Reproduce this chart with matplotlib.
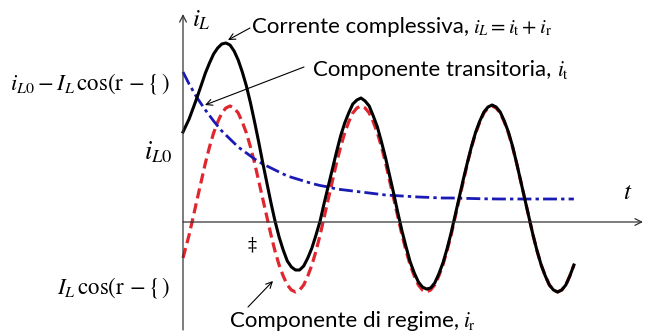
import matplotlib
matplotlib.use("Agg")
import matplotlib.pyplot as plt

plt.rcParams["mathtext.fontset"] = "stix"

# sampling instants (arbitrary time units, one period = 131)
t = [0.0, 6.1, 10.2, 14.2, 18.3, 22.4, 26.5, 30.6, 34.7, 38.8, 42.9,
     47.0, 51.1, 55.2, 59.3, 63.4, 67.5, 71.6, 75.7, 79.8, 83.9,
     88.0, 92.0, 96.1, 100.2, 104.3, 108.4, 112.5, 116.6, 120.7, 124.8,
     128.9, 133.0, 137.1, 141.2, 145.3, 149.4, 153.5, 157.6, 161.7, 165.7,
     169.8, 173.9, 178.0, 182.1, 186.2, 190.3, 194.4, 198.5, 202.6, 206.7,
     210.8, 214.9, 219.0, 223.1, 227.2, 231.3, 235.4, 239.4, 243.5, 247.6,
     251.7, 255.8, 259.9, 264.0, 268.1, 272.2, 276.3, 280.4, 284.5, 288.6,
     292.7, 296.8, 300.9, 305.0, 309.1, 313.1, 317.2, 321.3, 325.4, 329.5,
     333.6, 337.7, 341.8, 345.9, 350.0, 354.1, 358.2, 362.3, 366.4, 370.5,
     374.6, 378.7, 382.8, 386.8, 390.9]

# steady-state component i_r
i_r = [-36, -13, 5, 23, 41, 59, 75, 89, 100, 109, 114,
       116, 114, 109, 100, 89, 75, 59, 41, 23, 5,
       -13, -29, -43, -54, -63, -68, -70, -68, -63, -54,
       -43, -29, -13, 5, 23, 41, 59, 75, 89, 100,
       109, 114, 116, 114, 109, 100, 89, 75, 59, 41,
       23, 5, -13, -29, -43, -54, -63, -68, -70, -68,
       -63, -54, -43, -29, -13, 5, 23, 41, 59, 75,
       89, 100, 109, 114, 116, 114, 109, 100, 89, 75,
       59, 41, 23, 5, -13, -29, -43, -54, -63, -68,
       -70, -68, -63, -54, -43]

# total current i_L
i_L = [90, 103, 114, 125, 137, 149, 159, 168, 174, 178, 179,
       177, 171, 162, 150, 136, 119, 100, 80, 59, 39,
       19, 1, -15, -28, -39, -45, -48, -48, -44, -36,
       -26, -13, 1, 19, 36, 53, 70, 86, 99, 109,
       118, 122, 124, 121, 116, 106, 95, 80, 64, 46,
       28, 9, -9, -25, -40, -51, -60, -65, -67, -66,
       -61, -52, -41, -27, -11, 7, 25, 43, 60, 76,
       90, 101, 110, 115, 117, 115, 110, 101, 90, 76,
       59, 41, 23, 5, -13, -29, -43, -54, -63, -68,
       -70, -68, -63, -54, -43]

# transient component i_t (coarser sampling)
t_tr = [0.0, 6.1, 14.2, 22.4, 30.6, 38.8, 47.0, 55.2, 63.4, 71.6, 79.8,
        88.0, 96.1, 104.3, 112.5, 120.7, 128.9, 137.1, 145.3, 153.5, 161.7,
        169.8, 178.0, 186.2, 194.4, 202.6, 210.8, 219.0, 227.2, 235.4, 243.5,
        251.7, 259.9, 268.1, 276.3, 284.5, 292.7, 300.9, 309.1, 317.2, 325.4,
        333.6, 341.8, 350.0, 358.2, 366.4, 374.6, 382.8, 390.9]
i_t = [150, 138, 124, 112, 101, 91, 83, 75, 69, 63, 58,
       54, 50, 46, 43.5, 41, 38.5, 36.5, 35, 33, 32,
       31, 30, 29, 28, 27, 26.5, 26, 25.5, 25, 24.7,
       24.3, 24, 24, 23.8, 23.6, 23.4, 23.2, 23.1, 23, 23,
       23, 23, 23, 23, 23, 23, 23, 23]

fig = plt.figure(figsize=(6.45, 3.33), dpi=100)
ax = fig.add_axes([0, 0, 1, 1])
ax.set_xlim(-183, 462)
ax.set_ylim(-111, 222)
ax.axis("off")

# axes with open arrow heads
axis_kw = dict(arrowstyle="->", color="#333333", lw=0.9, shrinkA=0, shrinkB=0,
               mutation_scale=12)
ax.annotate("", xy=(0, 208), xytext=(0, -108), arrowprops=axis_kw)
ax.annotate("", xy=(460, 0), xytext=(0, 0), arrowprops=axis_kw)

ax.plot(t, i_r, color="#e0262e", lw=2.3, ls=(0, (3.2, 1.6)))
ax.plot(t_tr, i_t, color="#1a1ab4", lw=2.0, ls=(0, (5, 1.5, 1.2, 1.5)))
ax.plot(t, i_L, color="black", lw=2.2, solid_joinstyle="round")

sans = "Lato"
ptr = dict(arrowstyle="->", color="black", lw=0.8, shrinkA=0, shrinkB=0,
           mutation_scale=11)

# callouts: words in sans, symbols in math
ax.text(9, 202, "$i_L$", fontsize=18, ha="left", va="center")
ax.annotate("", xy=(45, 182), xytext=(67, 194), arrowprops=ptr)
ax.text(69, 189, "Corrente complessiva,", family=sans, fontsize=16,
        ha="left", va="baseline")
ax.text(290, 189, r"$i_L = i_\mathrm{t} + i_\mathrm{r}$", fontsize=15,
        ha="left", va="baseline")

ax.annotate("", xy=(22, 117), xytext=(121, 155), arrowprops=ptr)
ax.text(130, 146, "Componente transitoria,", family=sans, fontsize=16,
        ha="left", va="baseline")
ax.text(374, 146, r"$i_\mathrm{t}$", fontsize=15.5, ha="left", va="baseline")

ax.annotate("", xy=(90, -59), xytext=(65, -85), arrowprops=ptr)
ax.text(47, -105, "Componente di regime,", family=sans, fontsize=16,
        ha="left", va="baseline")
ax.text(280, -105, r"$i_\mathrm{r}$", fontsize=15.5, ha="left", va="baseline")

ax.text(-13, 138, r"$i_{L0} - I_L\,\cos(\mathrm{r}\,-\{\,)$", fontsize=16.5,
        ha="right", va="center")
ax.text(-11, 70, r"$i_{L0}$", fontsize=19, ha="right", va="center")
ax.text(-13, -65, r"$I_L\,\cos(\mathrm{r}\,-\{\,)$", fontsize=16.5,
        ha="right", va="center")
ax.text(69, -23, "‡", fontsize=13, family="DejaVu Serif", ha="center",
        va="center")
ax.text(445, 30, "$t$", fontsize=18, ha="center", va="center")

fig.savefig("out.png", dpi=100)
